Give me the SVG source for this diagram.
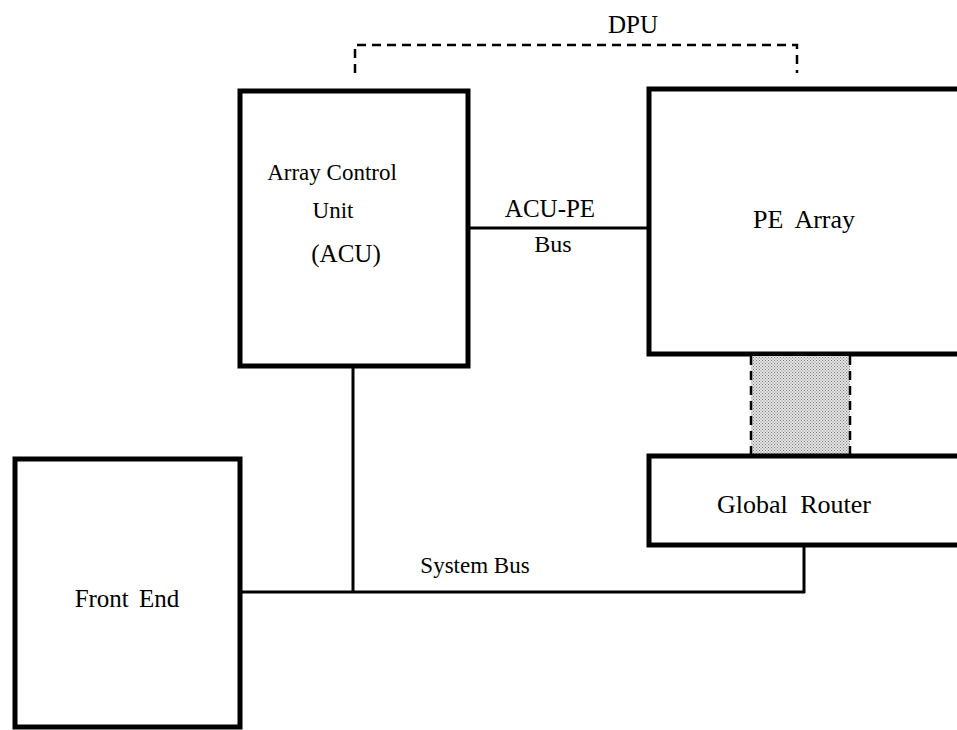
<svg xmlns="http://www.w3.org/2000/svg" width="957" height="730" viewBox="0 0 957 730">
  <defs>
    <pattern id="dots" width="3" height="3" patternUnits="userSpaceOnUse">
      <rect width="3" height="3" fill="#e6e6e6"/>
      <rect x="0" y="0" width="1" height="1" fill="#777"/>
      <rect x="1.5" y="1.5" width="1" height="1" fill="#777"/>
    </pattern>
  </defs>
  <style>
    .box { fill: #fff; stroke: #000; stroke-width: 5; }
    .wire { fill: none; stroke: #000; stroke-width: 3; }
    .dash { fill: none; stroke: #000; stroke-width: 2.5; stroke-dasharray: 9 6; }
    text { font-family: "Liberation Serif", "Times New Roman", serif; fill: #000; text-anchor: middle; }
  </style>
  <rect width="957" height="730" fill="#fff"/>

  <g id="connectors">
    <path class="dash" d="M355 73 V45 H797 V73"/>
    <line class="wire" x1="468" y1="228" x2="649" y2="228" stroke-width="2.5"/>
    <line class="wire" x1="353" y1="368" x2="353" y2="592"/>
    <line class="wire" x1="240" y1="592" x2="805" y2="592"/>
    <line class="wire" x1="804" y1="545" x2="804" y2="593"/>
  </g>

  <g id="dpu-label">
    <text x="633" y="33" font-size="25">DPU</text>
  </g>

  <g id="acu">
    <rect class="box" x="240" y="91" width="228" height="275"/>
    <text x="332" y="180" font-size="23">Array Control</text>
    <text x="333" y="218" font-size="23">Unit</text>
    <text x="346" y="262" font-size="25">(ACU)</text>
  </g>

  <g id="acu-pe-bus-label">
    <text x="550" y="217" font-size="25">ACU-PE</text>
    <text x="553" y="252" font-size="24">Bus</text>
  </g>

  <g id="pe-array">
    <rect class="box" x="649" y="89" width="330" height="265"/>
    <text x="804" y="228" font-size="26" word-spacing="6">PE Array</text>
  </g>

  <g id="interconnect">
    <rect x="751" y="356" width="99" height="98" fill="url(#dots)"/>
    <line class="dash" x1="751" y1="356" x2="751" y2="455" stroke-width="3"/>
    <line class="dash" x1="850" y1="356" x2="850" y2="455" stroke-width="3"/>
  </g>

  <g id="global-router">
    <rect class="box" x="649" y="456" width="330" height="89"/>
    <text x="794" y="513" font-size="26" word-spacing="6">Global Router</text>
  </g>

  <g id="system-bus-label">
    <text x="475" y="573" font-size="23">System Bus</text>
  </g>

  <g id="front-end">
    <rect class="box" x="15" y="459" width="225" height="268"/>
    <text x="127" y="607" font-size="25" word-spacing="4">Front End</text>
  </g>
</svg>
